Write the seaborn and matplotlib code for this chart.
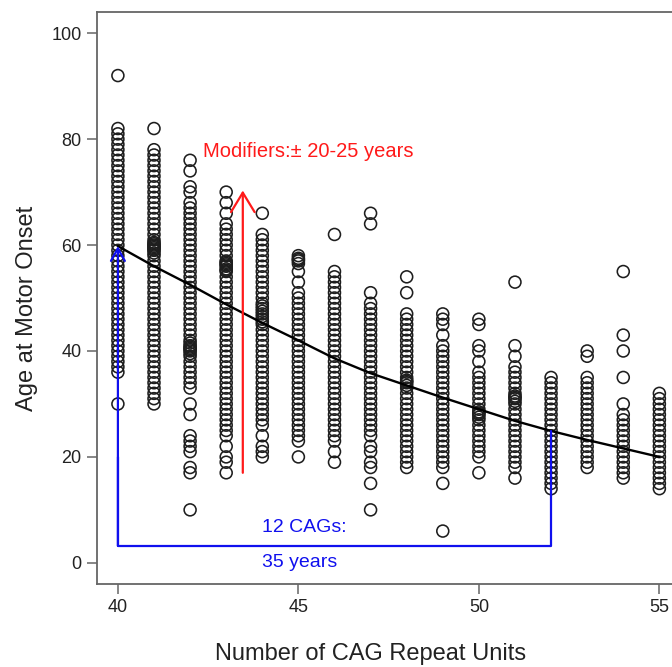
import pandas as pd
import matplotlib
matplotlib.use("Agg")
import matplotlib.pyplot as plt
import seaborn as sns

# age at motor onset, one list per CAG repeat length
age_40 = [92, 82, 81, 80, 79, 78, 77, 76, 75, 74, 73, 72, 71, 70, 69, 68, 67, 66, 65, 64, 63, 62,
          61, 60, 59, 58, 57, 56, 55, 54, 53, 52, 51, 50, 49, 48, 47, 46, 45, 44, 43, 42, 41, 40,
          39, 38, 37, 36, 30]
age_41 = [82, 78, 77, 76, 75, 74, 73, 72, 71, 70, 69, 68, 67, 66, 65, 64, 63, 62, 61, 60, 59, 58,
          57, 56, 55, 54, 53, 52, 51, 50, 49, 48, 47, 46, 45, 44, 43, 42, 41, 40, 39, 38, 37, 36,
          35, 34, 33, 32, 31, 30, 58.5, 59.5, 60.5, 59.25, 59.75, 60.25]
age_42 = [76, 74, 71, 70, 68, 67, 66, 65, 64, 63, 62, 61, 60, 59, 58, 57, 56, 55, 54, 53, 52, 51,
          50, 49, 48, 47, 46, 45, 44, 43, 42, 41, 40, 39, 38, 37, 36, 35, 34, 33, 30, 28, 24, 23,
          22, 21, 18, 17, 10, 39.5, 40.5, 41.5, 40.25, 40.75]
age_43 = [70, 68, 66, 64, 63, 62, 61, 60, 59, 58, 57, 56, 55, 54, 53, 52, 51, 50, 49, 48, 47, 46,
          45, 44, 43, 42, 41, 40, 39, 38, 37, 36, 35, 34, 33, 32, 31, 30, 29, 28, 27, 26, 25, 24,
          22, 20, 19, 17, 55.5, 56.5, 55.25, 56.25, 56.75]
age_44 = [66, 62, 61, 60, 59, 58, 57, 56, 55, 54, 53, 52, 51, 50, 49, 48, 47, 46, 45, 44, 43, 42,
          41, 40, 39, 38, 37, 36, 35, 34, 33, 32, 31, 30, 29, 28, 27, 26, 24, 22, 21, 20,
          45.5, 46.5, 47.5, 48.5]
age_45 = [58, 57, 55, 53, 51, 50, 49, 48, 47, 46, 45, 44, 43, 42, 41, 40, 39, 38, 37, 36, 35, 34,
          33, 32, 31, 30, 29, 28, 27, 26, 25, 24, 23, 20, 56.5, 57.5, 57.25]
age_46 = [62, 55, 54, 53, 52, 51, 50, 49, 48, 47, 46, 45, 44, 43, 42, 41, 40, 39, 38, 37, 36, 35,
          34, 33, 32, 31, 30, 29, 28, 27, 26, 25, 24, 23, 21, 19]
age_47 = [66, 64, 51, 49, 48, 47, 46, 45, 44, 43, 42, 41, 40, 39, 38, 37, 36, 35, 34, 33, 32, 31,
          30, 29, 28, 27, 26, 25, 24, 22, 21, 19, 18, 15, 10]
age_48 = [54, 51, 47, 46, 45, 44, 43, 42, 41, 40, 39, 38, 37, 36, 35, 34, 33, 32, 31, 30, 29, 28,
          27, 26, 25, 24, 23, 22, 21, 20, 19, 18, 33.5, 34.5, 34.25]
age_49 = [47, 46, 45, 43, 41, 40, 39, 38, 37, 36, 35, 34, 33, 32, 31, 30, 29, 28, 27, 26, 25, 24,
          23, 22, 21, 20, 19, 18, 15, 6]
age_50 = [46, 45, 41, 40, 38, 36, 35, 34, 33, 32, 31, 30, 29, 28, 27, 26, 25, 24, 23, 22, 21, 20,
          17, 27.5, 28.5, 28.25]
age_51 = [53, 41, 39, 37, 36, 35, 34, 33, 32, 31, 30, 29, 28, 27, 26, 25, 24, 23, 22, 21, 20, 19,
          18, 16, 30.5, 31.5, 31.25]
age_52 = [35, 34, 33, 32, 31, 30, 29, 28, 27, 26, 25, 24, 23, 22, 21, 20, 19, 18, 17, 16, 15, 14]
age_53 = [40, 39, 35, 34, 33, 32, 31, 30, 29, 28, 27, 26, 25, 24, 23, 22, 21, 20, 19, 18]
age_54 = [55, 43, 40, 35, 30, 28, 27, 26, 25, 24, 23, 22, 21, 20, 19, 18, 17, 16]
age_55 = [32, 31, 30, 29, 28, 27, 26, 25, 24, 23, 22, 21, 20, 19, 18, 17, 16, 15, 14]

# fitted mean curve
curve_cag = [40, 41, 42, 43, 44, 45, 46, 47, 48, 49, 50, 51, 52, 53, 54, 55]
curve_age = [59.8, 56.0, 52.5, 48.8, 45.3, 42.0, 38.6, 35.8, 33.5, 31.2, 29.0, 26.8, 24.9, 23.2,
             21.6, 20.0]

x_ticks = [40, 45, 50, 55]
y_ticks = [0, 20, 40, 60, 80, 100]

columns = {40: age_40, 41: age_41, 42: age_42, 43: age_43, 44: age_44, 45: age_45,
           46: age_46, 47: age_47, 48: age_48, 49: age_49, 50: age_50, 51: age_51,
           52: age_52, 53: age_53, 54: age_54, 55: age_55}
rows = [(cag, a) for cag, ages in columns.items() for a in ages]
df = pd.DataFrame(rows, columns=["cag", "age"])
curve = pd.DataFrame({"cag": curve_cag, "age": curve_age})

sns.set_style("white")
plt.rcParams['font.family'] = ['Liberation Sans', 'DejaVu Sans']

fig = plt.figure(figsize=(6.72, 6.67), dpi=100)
ax = fig.add_axes([0.1443, 0.1244, 0.8557, 0.8576])

sns.scatterplot(data=df, x="cag", y="age", marker="o", s=74, linewidth=1.15,
                edgecolor="#1e1e1e", ax=ax, zorder=2)
ax.collections[0].set_facecolor("none")
sns.lineplot(data=curve, x="cag", y="age", color="black", lw=1.7, ax=ax, zorder=3)

# modifiers arrow
red = "#ff1a1a"
ax.annotate("", xy=(43.46, 70.3), xytext=(43.46, 17),
            arrowprops=dict(arrowstyle="->,head_length=1.4,head_width=0.85", color=red,
                            lw=1.6, shrinkA=0, shrinkB=0), zorder=4)
ax.text(42.35, 77.6, "Modifiers:\u00b1 20-25 years", color=red, fontsize=14.5,
        ha="left", va="center")

# 12 CAGs bracket
blue = "#1010ee"
ax.plot([40, 40, 52, 52], [20, 3.2, 3.2, 24.8], color=blue, lw=1.6, zorder=4)
ax.annotate("", xy=(40, 59.8), xytext=(40, 3.2),
            arrowprops=dict(arrowstyle="->,head_length=0.9,head_width=0.5", color=blue,
                            lw=1.6, shrinkA=0, shrinkB=0), zorder=4)
ax.text(43.99, 6.6, "12 CAGs:", color=blue, fontsize=14, ha="left", va="center")
ax.text(43.99, 0, "35 years", color=blue, fontsize=14, ha="left", va="center")

ax.set_xlim(39.42, 55.35)
ax.set_ylim(-4, 104)
ax.set_xticks(x_ticks)
ax.set_yticks(y_ticks)
ax.tick_params(axis="both", direction="out", length=7, width=1.1, color="#666666",
               labelsize=13, labelcolor="#222222", pad=4, left=True, bottom=True)
for side in ["left", "top", "bottom"]:
    ax.spines[side].set_color("#666666")
    ax.spines[side].set_linewidth(1.3)
ax.spines["right"].set_visible(False)

ax.set_xlabel("Number of CAG Repeat Units", fontsize=17, color="#222222")
ax.set_ylabel("Age at Motor Onset", fontsize=17, color="#222222")
ax.xaxis.set_label_coords((371 - 97) / 575, -(643 - 584) / 572)
ax.yaxis.set_label_coords(-(97 - 38) / 575, (584 - 308) / 572)

fig.savefig("out.png", dpi=100)
